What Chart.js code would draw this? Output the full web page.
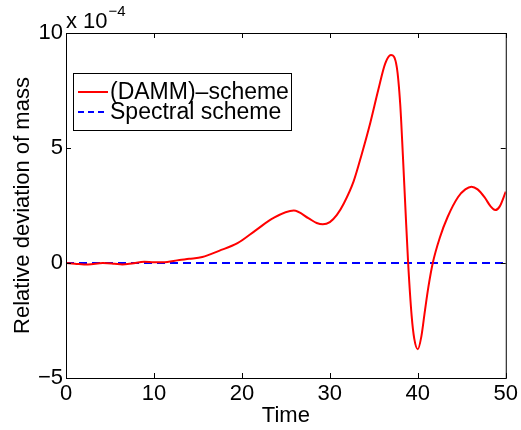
<!DOCTYPE html>
<html>
<head>
<meta charset="utf-8">
<script src="https://cdn.jsdelivr.net/npm/chart.js@4.4.1/dist/chart.umd.min.js"></script>
<style>
    html, body { margin: 0; padding: 0; background: #fff; }
    #wrap { width: 521px; height: 430px; }
</style>
</head>
<body>
<div id="wrap"><canvas id="massChart" width="521" height="430"></canvas></div>
<script>
// values are in units of 1e-4 (the axis shows "x 10^-4")
const dammTime = [0, 1, 2.5, 4.2, 5.5, 6.4, 7.5, 8.9, 10, 11, 12.9, 14, 15.5, 17.4, 19.5, 21.6, 23.5, 25.9, 27.6, 28.5, 29.2,
    30.0, 30.8, 31.6, 32.7, 33.6, 34.6, 35.5, 36.3, 36.95, 37.6, 38.0, 38.3, 38.6, 38.9, 39.3, 39.6, 40.0, 40.4, 40.8, 41.2, 41.7,
    42.5, 43.4, 44.6, 45.4, 46.1, 46.8, 47.6, 48.3, 48.8, 49.3, 50];
const dammValues = [0, -0.03, -0.07, 0.0, -0.03, -0.06, -0.02, 0.05, 0.03, 0.03, 0.13, 0.18, 0.26, 0.53, 0.86, 1.43, 1.94, 2.28, 1.94, 1.74, 1.68,
    1.78, 2.09, 2.6, 3.55, 4.7, 6.1, 7.52, 8.68, 9.04, 8.54, 6.9, 4.7, 2.3, 0, -2.3, -3.3, -3.75, -3.2, -2.1, -1.05, 0,
    1.1, 2.01, 2.88, 3.2, 3.32, 3.2, 2.85, 2.45, 2.30, 2.45, 3.1];
const spectralTime = [0, 10, 20, 30, 40, 50];
const spectralValues = [0, 0, 0, 0, 0, 0];

const xTicks = [0, 10, 20, 30, 40, 50];
const yTicks = [-5, 0, 5, 10];
const seriesNames = ['(DAMM)\u2013scheme', 'Spectral scheme'];

const FONT = "'Liberation Sans', Arial, Helvetica, sans-serif";

const toPoints = (xs, ys) => xs.map((x, i) => ({ x: x, y: ys[i] }));

// black box with inward ticks, MATLAB style
const framePlugin = {
    id: 'frame',
    afterDraw(chart) {
        const { ctx, chartArea: a, scales } = chart;
        ctx.save();
        ctx.strokeStyle = '#000';
        ctx.lineWidth = 1;
        ctx.strokeRect(a.left + 0.5, a.top + 0.5, a.right - a.left, a.bottom - a.top);
        const tl = 5;
        ctx.beginPath();
        xTicks.forEach(v => {
            const px = Math.round(scales.x.getPixelForValue(v)) + 0.5;
            ctx.moveTo(px, a.bottom); ctx.lineTo(px, a.bottom - tl);
            ctx.moveTo(px, a.top); ctx.lineTo(px, a.top + tl);
        });
        yTicks.forEach(v => {
            const py = Math.round(scales.y.getPixelForValue(v)) + 0.5;
            ctx.moveTo(a.left, py); ctx.lineTo(a.left + tl, py);
            ctx.moveTo(a.right, py); ctx.lineTo(a.right - tl, py);
        });
        ctx.stroke();

        // exponent label
        ctx.fillStyle = '#000';
        ctx.textBaseline = 'alphabetic';
        ctx.textAlign = 'left';
        ctx.font = '22px ' + FONT;
        ctx.fillText('x 10', a.left, a.top - 5);
        const w = ctx.measureText('x 10').width;
        ctx.font = '15px ' + FONT;
        ctx.fillText('\u22124', a.left + w + 1, a.top - 17);
        ctx.restore();
    }
};

// legend box in the upper left corner of the plot
const legendPlugin = {
    id: 'boxLegend',
    afterDraw(chart) {
        const { ctx } = chart;
        const bx = 73, by = 73, bw = 218, bh = 57;
        ctx.save();
        ctx.fillStyle = '#fff';
        ctx.fillRect(bx, by, bw, bh);
        ctx.strokeStyle = '#000';
        ctx.lineWidth = 1;
        ctx.strokeRect(bx + 0.5, by + 0.5, bw, bh);
        ctx.font = '23px ' + FONT;
        ctx.textBaseline = 'middle';
        chart.data.datasets.forEach((ds, i) => {
            const cy = by + 19 + i * 20;
            ctx.strokeStyle = ds.borderColor;
            ctx.lineWidth = ds.borderWidth;
            ctx.setLineDash(i === 1 ? [6, 4] : []);
            ctx.beginPath();
            ctx.moveTo(bx + 5, cy);
            ctx.lineTo(bx + 35, cy);
            ctx.stroke();
            ctx.setLineDash([]);
            ctx.fillStyle = '#000';
            ctx.fillText(ds.label, bx + 37, cy + 1);
        });
        ctx.restore();
    }
};

new Chart(document.getElementById('massChart'), {
    type: 'line',
    data: {
        datasets: [{
            label: seriesNames[0],
            data: toPoints(dammTime, dammValues),
            borderColor: '#ff0000',
            borderWidth: 2,
            pointRadius: 0,
            cubicInterpolationMode: 'monotone',
            fill: false
        }, {
            label: seriesNames[1],
            data: toPoints(spectralTime, spectralValues),
            borderColor: '#0000ff',
            borderWidth: 2,
            borderDash: [8, 5],
            pointRadius: 0,
            fill: false
        }]
    },
    options: {
        responsive: false,
        animation: false,
        layout: { padding: { top: 33, right: 13, left: 0, bottom: 0 } },
        plugins: {
            legend: { display: false },
            tooltip: { enabled: false }
        },
        scales: {
            x: {
                type: 'linear',
                min: 0,
                max: 50,
                afterBuildTicks: s => { s.ticks = xTicks.map(v => ({ value: v })); },
                afterFit: s => { s.height = 52; },
                grid: { display: false, drawTicks: false },
                border: { display: false },
                ticks: { color: '#000', padding: 3, font: { family: FONT, size: 22 } },
                title: { display: true, text: 'Time', color: '#000', padding: { top: 0, bottom: 1 }, font: { family: FONT, size: 22 } }
            },
            y: {
                type: 'linear',
                min: -5,
                max: 10,
                afterBuildTicks: s => { s.ticks = yTicks.map(v => ({ value: v })); },
                afterFit: s => { s.width = 66; },
                grid: { display: false, drawTicks: false },
                border: { display: false },
                ticks: {
                    color: '#000',
                    padding: 3,
                    font: { family: FONT, size: 22 },
                    callback: v => v < 0 ? '\u2212' + Math.abs(v) : String(v)
                },
                title: { display: true, text: 'Relative deviation of mass', color: '#000', padding: { top: 10, bottom: 0 }, font: { family: FONT, size: 22 } }
            }
        }
    },
    plugins: [framePlugin, legendPlugin]
});
</script>
</body>
</html>
